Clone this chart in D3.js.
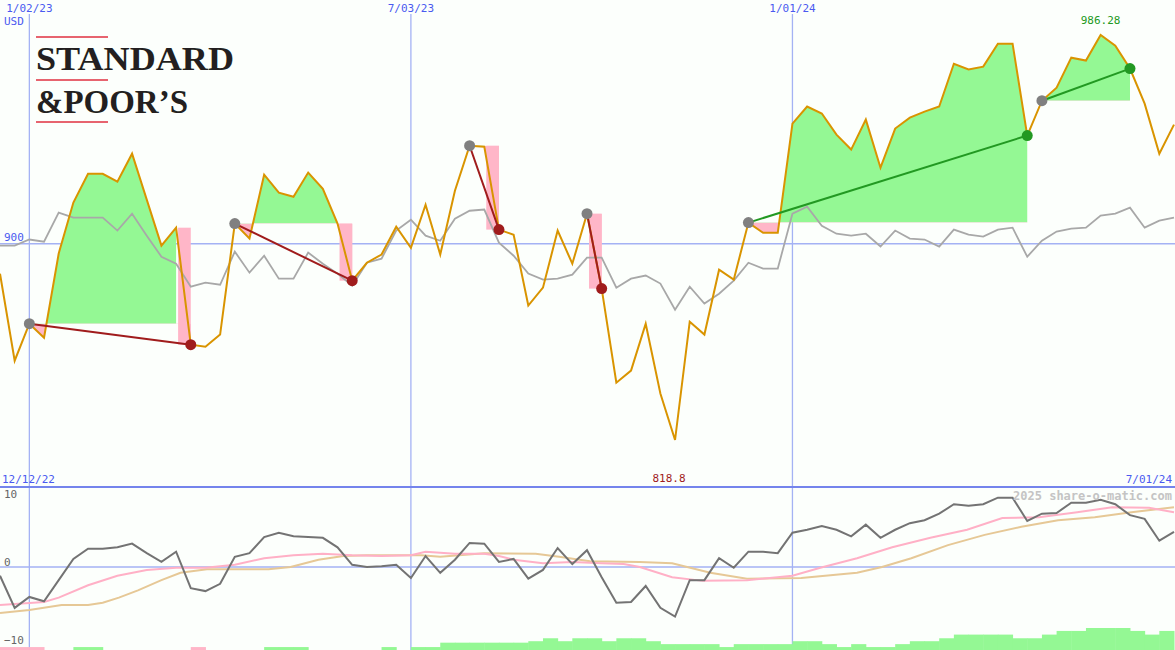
<!DOCTYPE html>
<html>
<head>
<meta charset="utf-8">
<script src="https://cdn.jsdelivr.net/npm/d3@7/dist/d3.min.js"></script>
<style>
  body { margin: 0; background: #fcfffc; }
  svg { display: block; }
  text { font-family: "DejaVu Sans Mono", monospace; font-size: 11px; }
</style>
</head>
<body>
<svg id="chart" width="1175" height="650"></svg>
<script>
// weekly closes, week 0 = 12/19/22
var price = [887.6, 851.6, 866.9, 861.1, 895.9, 917.0, 928.9, 928.9, 925.6, 937.2,
  918.2, 899.2, 906.6, 858.2, 857.4, 862.4, 908.3, 902.1, 928.5, 921.1,
  919.4, 929.4, 922.7, 908.3, 884.7, 892.1, 895.5, 907.0, 898.3, 916.1,
  895.5, 921.9, 940.5, 940.1, 905.8, 903.7, 874.4, 881.8, 905.4, 891.7,
  912.4, 881.4, 842.5, 847.5, 866.9, 838.0, 818.8, 867.7, 862.4, 889.2,
  885.1, 908.7, 904.5, 904.5, 949.6, 956.7, 953.8, 945.1, 938.9, 951.3,
  931.4, 947.6, 952.1, 954.6, 956.7, 974.4, 972.0, 973.2, 982.7, 982.7,
  944.7, 959.1, 964.5, 976.9, 975.7, 986.28, 981.9, 972.4, 957.9, 937.2, 949.2];
var avg = [899.2, 899.2, 901.7, 900.8, 912.8, 910.8, 910.8, 910.8, 905.4, 912.4,
  903.3, 894.6, 891.7, 882.2, 883.9, 883.0, 896.7, 888.0, 895.0, 885.5,
  885.5, 896.3, 891.7, 887.6, 882.6, 892.1, 893.8, 905.4, 909.9, 903.3,
  901.2, 910.3, 913.6, 914.1, 900.4, 895.0, 887.6, 885.1, 885.5, 887.2,
  894.2, 894.2, 881.8, 885.5, 886.8, 883.5, 872.7, 882.2, 875.2, 879.3,
  884.7, 892.1, 889.7, 889.7, 912.4, 915.3, 907.4, 904.1, 903.3, 904.1,
  898.8, 905.4, 902.1, 901.7, 898.8, 905.8, 903.7, 902.9, 905.8, 906.6,
  894.6, 901.2, 905.0, 906.2, 906.6, 911.6, 912.4, 914.9, 906.6, 909.5, 910.8];
// trades: entry week, exit week
var tradeEntry = [2, 16, 32, 40, 51, 71];
var tradeExit = [13, 24, 34, 41, 70, 77];

var momentum = [-1.2, -5.6, -4.1, -4.7, -1.8, 1.1, 2.5, 2.5, 2.7, 3.2,
  1.9, 0.7, 2.1, -2.9, -3.3, -2.3, 1.4, 1.9, 4.1, 4.7,
  4.2, 4.1, 4.0, 2.7, 0.3, 0, 0.1, 0.3, -1.5, 1.5,
  -0.8, 1.0, 3.3, 3.2, 0.7, 1.1, -1.6, -0.4, 2.6, 0.4,
  2.3, -1.4, -4.9, -4.8, -2.6, -5.6, -6.8, -1.8, -1.8, 1.2,
  -0.1, 2.1, 2.1, 1.9, 4.7, 5.1, 5.6, 5.1, 4.2, 5.8,
  4.0, 5.1, 6.0, 6.4, 7.3, 8.6, 8.4, 8.6, 9.5, 9.5,
  6.3, 7.3, 7.4, 8.8, 8.8, 9.2, 8.6, 7.1, 6.6, 3.6, 4.8];
var fastWeeks = [0, 3, 4, 6, 8, 10, 12, 14, 16, 18, 20, 22, 24, 26, 28, 29, 31, 33, 34, 35,
  37, 39, 41, 42.5, 43.6, 45.8, 47.9, 50.9, 54, 55.9, 58.4, 60.8, 63.4, 65.9, 68.3, 70.8, 73.4, 75.8, 78.3, 80];
var fastVals = [-5.2, -4.8, -4.2, -2.5, -1.2, -0.4, -0.1, -0.1, 0.3, 1.2, 1.6, 1.8, 1.6, 1.5, 1.6, 2.1, 1.8, 1.8, 1.5, 1.0,
  0.5, 0.7, 0.5, 0.4, 0, -1.4, -1.9, -1.8, -1.2, -0.1, 1.2, 2.7, 4.0, 5.1, 6.7, 6.8, 7.5, 8.2, 8.1, 7.5];
var slowWeeks = [0, 2, 4.2, 6, 7, 8.1, 9.4, 11, 12.3, 14.1, 18.3, 19.8, 21.7, 23.4, 25, 28.7, 30, 33, 36.5, 38.1,
  40.2, 43.6, 45.8, 48.4, 50.9, 54.6, 58.4, 60.1, 62.1, 64.6, 67.1, 69.6, 72.1, 74.6, 77.1, 80];
var slowVals = [-6.3, -5.9, -5.2, -5.2, -4.9, -4.2, -3.2, -1.8, -0.8, -0.3, -0.3, 0, 1.0, 1.5, 1.6, 1.6, 1.4, 1.9, 1.8, 1.4,
  0.8, 0.7, 0.5, -0.8, -1.6, -1.5, -0.8, 0, 1.2, 3.0, 4.4, 5.5, 6.4, 6.8, 7.5, 8.2];
var hist = [-0.4, -0.4, -0.4, 0, 0, 0.4, 0.4, 0, 0, 0, 0, 0, 0, -0.4, 0, 0, 0, 0, 0.4, 0.4,
  0.4, 0, 0, 0, 0, 0, 0.4, 0, 0.4, 0.4, 1.0, 1.0, 1.0, 1.0, 1.0, 1.0, 1.2, 1.6, 1.2, 1.6,
  1.6, 1.2, 1.6, 1.6, 1.2, 0.8, 0.8, 0.8, 0.8, 0.4, 0.8, 0.8, 0.8, 0.8, 1.2, 1.2, 0.8, 0.4, 0.8, 0.4,
  0.4, 0.8, 1.2, 1.2, 1.6, 2.1, 2.1, 2.1, 2.1, 1.6, 1.6, 2.1, 2.6, 2.6, 3.0, 3.0, 3.0, 2.6, 2.1, 2.6];

var dateTicks = ["1/02/23", "7/03/23", "1/01/24"];
var dateTickWeeks = [2, 28, 54];

var svg = d3.select("#chart");
var W = 1175;
var x = d3.scaleLinear().domain([0, 80]).range([0, 1174]);
var y = d3.scaleLinear().domain([818.8, 986.28]).range([440, 35]);
var y2 = d3.scaleLinear().domain([-10, 10]).range([640, 494]);
var yh = d3.scaleLinear().domain([0, 3]).range([650, 628]);

var gridColor = "#a4b2f4", labelColor = "#4a5af0";

// grid
svg.selectAll(".vgrid").data(dateTickWeeks).enter().append("line")
  .attr("x1", d => x(d)).attr("x2", d => x(d)).attr("y1", 14).attr("y2", 650)
  .attr("stroke", gridColor).attr("stroke-width", 1.3);
svg.append("line").attr("x1", 0).attr("x2", W).attr("y1", y(900)).attr("y2", y(900))
  .attr("stroke", gridColor).attr("stroke-width", 1.5);
svg.append("line").attr("x1", 0).attr("x2", W).attr("y1", y2(0)).attr("y2", y2(0))
  .attr("stroke", gridColor).attr("stroke-width", 1.5);
svg.append("line").attr("x1", 0).attr("x2", W).attr("y1", 487).attr("y2", 487)
  .attr("stroke", "#7484ec").attr("stroke-width", 2);

// trade fills
var defs = svg.append("defs");
tradeEntry.forEach(function(e, t) {
  var ex = tradeExit[t], L = price[e];
  var win = price[ex] > L;
  var gEnd = win ? ex : ex - 1;
  defs.append("clipPath").attr("id", "up" + t).append("rect")
    .attr("x", 0).attr("y", 0).attr("width", W).attr("height", y(L));
  defs.append("clipPath").attr("id", "dn" + t).append("rect")
    .attr("x", 0).attr("y", y(L)).attr("width", W).attr("height", 650 - y(L));
  var pts = d3.range(e, ex + 1).map(i => [i, price[i]]);
  var area = d3.area().x(d => x(d[0])).y0(y(L)).y1(d => y(d[1]));
  svg.append("path").datum(pts.filter(d => d[0] <= gEnd)).attr("d", area)
    .attr("fill", "#94f894").attr("clip-path", "url(#up" + t + ")");
  svg.append("path").datum(pts).attr("d", area)
    .attr("fill", "#ffb6c8").attr("clip-path", "url(#dn" + t + ")");
  if (!win) {
    var top = Math.min(y(price[ex - 1]), y(L));
    svg.append("rect").attr("x", x(ex - 1) + 2).attr("width", x(ex) - x(ex - 1) - 2)
      .attr("y", top).attr("height", y(price[ex]) - top).attr("fill", "#ffb6c8");
  }
});

// price lines
svg.append("path").datum(avg).attr("fill", "none").attr("stroke", "#a8a8a8").attr("stroke-width", 1.8)
  .attr("d", d3.line().x((d, i) => x(i)).y(d => y(d)));
svg.append("path").datum(price).attr("fill", "none").attr("stroke", "#d99400").attr("stroke-width", 2)
  .attr("d", d3.line().x((d, i) => x(i)).y(d => y(d)));

// trade connectors and dots
tradeEntry.forEach(function(e, t) {
  var ex = tradeExit[t];
  var win = price[ex] > price[e];
  var c = win ? "#229922" : "#a01c1c";
  svg.append("line").attr("x1", x(e)).attr("y1", y(price[e])).attr("x2", x(ex)).attr("y2", y(price[ex]))
    .attr("stroke", c).attr("stroke-width", 2);
  svg.append("circle").attr("cx", x(e)).attr("cy", y(price[e])).attr("r", 5.5).attr("fill", "#808080");
  svg.append("circle").attr("cx", x(ex)).attr("cy", y(price[ex])).attr("r", 5.5).attr("fill", c);
});

// labels
svg.selectAll(".dlab").data(dateTicks).enter().append("text")
  .attr("x", (d, i) => x(dateTickWeeks[i])).attr("y", 12).attr("text-anchor", "middle")
  .attr("fill", labelColor).text(d => d);
svg.append("text").attr("x", 4).attr("y", 25).attr("fill", labelColor).text("USD");
svg.append("text").attr("x", 4).attr("y", y(900) - 3).attr("fill", labelColor).text("900");
var hi = d3.maxIndex(price), lo = d3.minIndex(price);
svg.append("text").attr("x", x(hi)).attr("y", 24).attr("text-anchor", "middle")
  .attr("fill", "#229922").text(price[hi]);
svg.append("text").attr("x", x(lo) - 6).attr("y", 482).attr("text-anchor", "middle")
  .attr("fill", "#a01c1c").text(price[lo]);
svg.append("text").attr("x", 2).attr("y", 483).attr("fill", labelColor).text("12/12/22");
svg.append("text").attr("x", 1172).attr("y", 483).attr("text-anchor", "end").attr("fill", labelColor).text("7/01/24");

// logo
[37, 80, 122].forEach(function(ly) {
  svg.append("line").attr("x1", 36).attr("x2", 108).attr("y1", ly).attr("y2", ly)
    .attr("stroke", "#e03040").attr("stroke-width", 1.5);
});
svg.append("text").attr("x", 36).attr("y", 70).attr("textLength", 198).attr("lengthAdjust", "spacingAndGlyphs")
  .style("font-family", "'Liberation Serif', serif").style("font-size", "33px").style("font-weight", "bold")
  .attr("fill", "#231f20").text("STANDARD");
svg.append("text").attr("x", 36).attr("y", 113).attr("textLength", 152).attr("lengthAdjust", "spacingAndGlyphs")
  .style("font-family", "'Liberation Serif', serif").style("font-size", "33px").style("font-weight", "bold")
  .attr("fill", "#231f20").text("&POOR\u2019S");

// lower panel
svg.selectAll(".hbar").data(hist).enter().append("rect")
  .attr("x", (d, i) => x(i)).attr("width", (d, i) => x(i + 1) - x(i) + 0.5)
  .attr("y", d => yh(Math.abs(d))).attr("height", d => 650 - yh(Math.abs(d)))
  .attr("fill", d => d < 0 ? "#ffb6c8" : "#94f894");
svg.append("path").datum(d3.zip(slowWeeks, slowVals)).attr("fill", "none").attr("stroke", "#e6c896").attr("stroke-width", 2)
  .attr("d", d3.line().x(d => x(d[0])).y(d => y2(d[1])));
svg.append("path").datum(d3.zip(fastWeeks, fastVals)).attr("fill", "none").attr("stroke", "#ffb0c6").attr("stroke-width", 2)
  .attr("d", d3.line().x(d => x(d[0])).y(d => y2(d[1])));
svg.append("path").datum(momentum).attr("fill", "none").attr("stroke", "#737373").attr("stroke-width", 2)
  .attr("d", d3.line().x((d, i) => x(i)).y(d => y2(d)));
[10, 0, -10].forEach(function(v) {
  svg.append("text").attr("x", 4).attr("y", y2(v) + (v === 0 ? -1 : 4)).attr("fill", "#666").text(v === -10 ? "\u221210" : v);
});
svg.append("text").attr("x", 1172).attr("y", 500).attr("text-anchor", "end").attr("fill", "#c4c4c4")
  .style("font-weight", "bold").style("font-size", "12px").text("2025 share-o-matic.com");
</script>
</body>
</html>
